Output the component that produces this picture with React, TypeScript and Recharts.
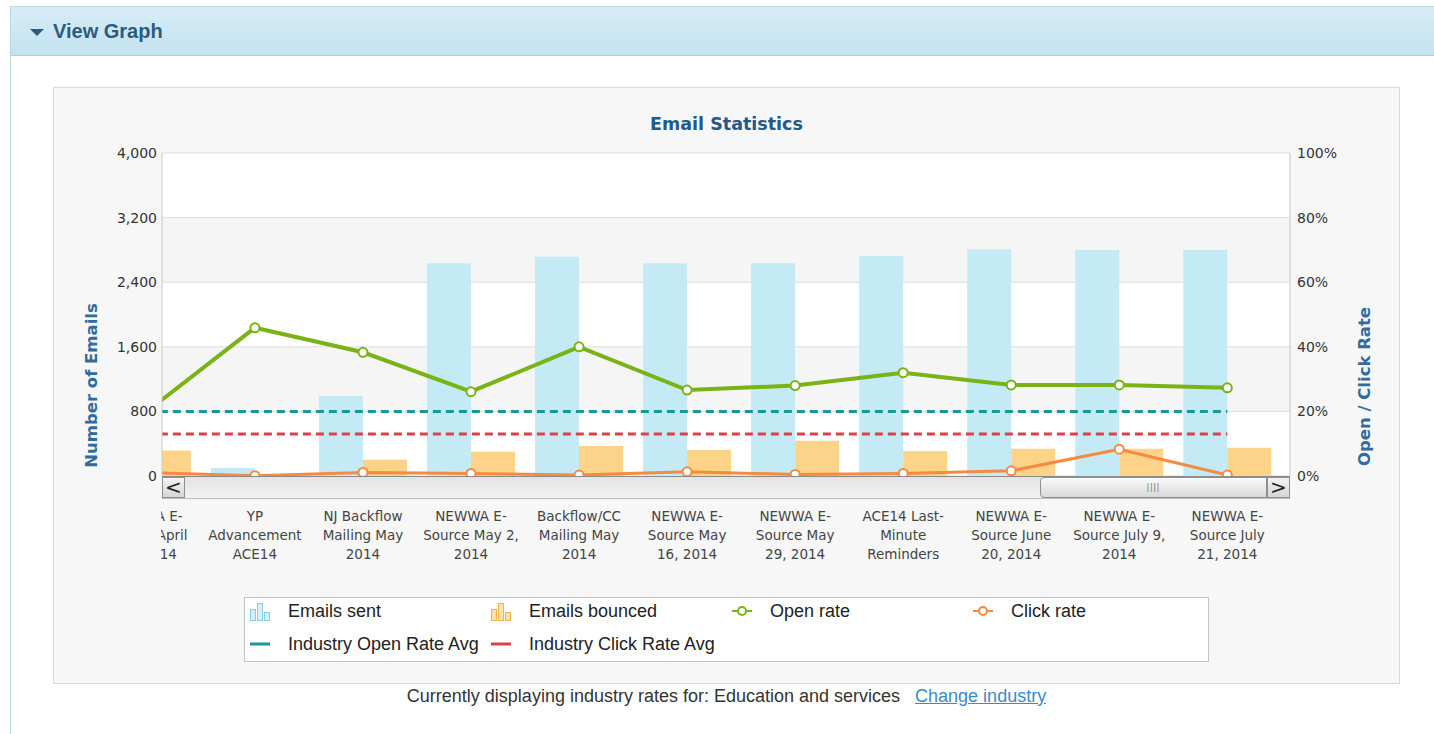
import { ComposedChart, Bar, Line, XAxis, YAxis, CartesianGrid, ReferenceLine } from 'recharts';

// campaign names, line breaks as shown under the axis
const categories = [
  'NEWWA E-\nSource April\n18, 2014',
  'YP\nAdvancement\nACE14',
  'NJ Backflow\nMailing May\n2014',
  'NEWWA E-\nSource May 2,\n2014',
  'Backflow/CC\nMailing May\n2014',
  'NEWWA E-\nSource May\n16, 2014',
  'NEWWA E-\nSource May\n29, 2014',
  'ACE14 Last-\nMinute\nReminders',
  'NEWWA E-\nSource June\n20, 2014',
  'NEWWA E-\nSource July 9,\n2014',
  'NEWWA E-\nSource July\n21, 2014',
];
const emailsSent = [2600, 100, 990, 2635, 2716, 2635, 2635, 2724, 2807, 2800, 2800];
const emailsBounced = [315, 5, 200, 300, 372, 322, 437, 310, 338, 338, 350];
const openRate = [20, 45.9, 38.3, 26.1, 40.0, 26.6, 28.0, 32.0, 28.2, 28.2, 27.3];
const clickRate = [1.1, 0.1, 1.1, 0.8, 0.3, 1.3, 0.5, 0.8, 1.6, 8.3, 0.3];
const industryOpenRate = 20;
const industryClickRate = 13;

const countTicks = [0, 800, 1600, 2400, 3200, 4000];
const rateTicks = [0, 20, 40, 60, 80, 100];
// visible window of the scrolled category axis
const xWindow = [0.14, 10.58];

const data = categories.map((name, idx) => ({
  idx,
  name,
  sent: emailsSent[idx],
  bounced: emailsBounced[idx],
  open: openRate[idx],
  click: clickRate[idx],
}));

const C = {
  sent: '#c4eaf6',
  bounced: '#fdd38a',
  open: '#79b316',
  click: '#f58b40',
  indOpen: '#17999a',
  indClick: '#d9414b',
  blue: '#2f6b9f',
};

const PLOT_LEFT = 108;

function CategoryTick({ x, y, payload, index }: any) {
  const lines = (categories[Math.round(payload.value)] ?? '').split('\n');
  const id = `tick-clip-${index}`;
  return (
    <g>
      <defs>
        <clipPath id={id}>
          <rect x={PLOT_LEFT - 1} y={0} width={3000} height={3000} />
        </clipPath>
      </defs>
      <text x={x} y={y} textAnchor="middle" fill="#444" fontSize={13.5} fontFamily="DejaVu Sans" clipPath={`url(#${id})`}>
        {lines.map((l, i) => (
          <tspan key={i} x={x} dy={i === 0 ? 45 : 19}>{l}</tspan>
        ))}
      </text>
    </g>
  );
}

function AxisTitle({ viewBox, text, shiftX, shiftY }: any) {
  const cx = viewBox.x + viewBox.width / 2 + shiftX;
  const cy = viewBox.y + viewBox.height / 2 + shiftY;
  return (
    <text x={cx} y={cy} transform={`rotate(-90 ${cx} ${cy})`} textAnchor="middle" dominantBaseline="central"
      fontFamily="DejaVu Sans" fontWeight="bold" fontSize={16.5} fill={C.blue}>
      {text}
    </text>
  );
}

function BarIcon({ fill, stroke }: { fill: string; stroke: string }) {
  return (
    <svg width={22} height={22}>
      <rect x={1.5} y={9.5} width={5} height={11} fill={fill} stroke={stroke} />
      <rect x={8.5} y={3.5} width={5} height={17} fill={fill} stroke={stroke} />
      <rect x={15.5} y={12.5} width={5} height={8} fill={fill} stroke={stroke} />
    </svg>
  );
}

function LineIcon({ color, dot }: { color: string; dot: boolean }) {
  return (
    <svg width={22} height={22}>
      <line x1={1} y1={11} x2={21} y2={11} stroke={color} strokeWidth={dot ? 2 : 3} />
      {dot && <circle cx={11} cy={11} r={4} fill="#fff" stroke={color} strokeWidth={2} />}
    </svg>
  );
}

const legendItems = [
  { label: 'Emails sent', icon: <BarIcon fill="#d6f0f9" stroke="#8ccbe0" /> },
  { label: 'Emails bounced', icon: <BarIcon fill="#fde2a8" stroke="#efb24c" /> },
  { label: 'Open rate', icon: <LineIcon color={C.open} dot /> },
  { label: 'Click rate', icon: <LineIcon color={C.click} dot /> },
  { label: 'Industry Open Rate Avg', icon: <LineIcon color={C.indOpen} dot={false} /> },
  { label: 'Industry Click Rate Avg', icon: <LineIcon color={C.indClick} dot={false} /> },
];

function Scrollbar() {
  const btn: React.CSSProperties = {
    position: 'absolute', top: 0, width: 23, height: 21, background: 'linear-gradient(#f4f4f4, #d6d6d6)',
    border: '1px solid #8f8f8f', boxSizing: 'border-box', fontSize: 20, lineHeight: '18px', textAlign: 'center',
    color: '#222', fontFamily: 'DejaVu Sans',
  };
  return (
    <div style={{ position: 'absolute', left: PLOT_LEFT, top: 388, width: 1128, height: 23, background: 'linear-gradient(#e4e4e4, #f1f1f1)', borderTop: '1px solid #8a8a8a', borderBottom: '1px solid #bdbdbd', boxSizing: 'border-box' }}>
      <div style={{ ...btn, left: 0 }}>&lt;</div>
      <div style={{ position: 'absolute', left: 878, top: 0, width: 227, height: 21, background: 'linear-gradient(#fafafa, #d9d9d9)', border: '1px solid #8f8f8f', borderRadius: '4px 0 0 4px', boxSizing: 'border-box', textAlign: 'center', fontSize: 9, lineHeight: '19px', color: '#777', letterSpacing: 1 }}>
        ||||
      </div>
      <div style={{ ...btn, right: 0 }}>&gt;</div>
    </div>
  );
}

export default function App() {
  return (
    <div style={{ position: 'absolute', left: 0, top: 0, width: 1434, height: 734, overflow: 'hidden', background: '#fff', fontFamily: '"Liberation Sans", Arial, sans-serif' }}>
      <div style={{ position: 'absolute', left: 10, top: 6, width: 1500, height: 800, border: '1px solid #bcd9e6', boxSizing: 'border-box' }}>
        <div style={{ position: 'relative', height: 48, background: 'linear-gradient(#d6edf7, #c3e2ef)', borderBottom: '1px solid #a8cfe1' }}>
          <div style={{ position: 'absolute', left: 19, top: 22, width: 0, height: 0, borderLeft: '7px solid transparent', borderRight: '7px solid transparent', borderTop: '7px solid #2b5c7e' }} />
          <div style={{ position: 'absolute', left: 42, top: 0, lineHeight: '48px', fontSize: 20, fontWeight: 'bold', color: '#2b5c7e' }}>View Graph</div>
        </div>
      </div>

      <div style={{ position: 'absolute', left: 53, top: 87, width: 1347, height: 597, border: '1px solid #d9d9d9', background: '#f7f7f7', boxSizing: 'border-box' }}>
        <div style={{ position: 'absolute', left: 0, top: 25, width: '100%', textAlign: 'center', fontFamily: 'DejaVu Sans', fontWeight: 'bold', fontSize: 17.5, lineHeight: '22px', color: '#22598a' }}>
          Email Statistics
        </div>
        <div style={{ position: 'absolute', left: 0, top: 0 }}>
          <ComposedChart width={1345} height={478} data={data} margin={{ top: 65, right: 0, bottom: 0, left: 0 }} barGap={0}>
            <CartesianGrid yAxisId="left" vertical={false} stroke="#dedede" horizontalFill={['#ffffff', '#f5f5f5']} fillOpacity={1} />
            <XAxis xAxisId={0} type="number" dataKey="idx" domain={xWindow} allowDataOverflow ticks={categories.map((_, i) => i)} interval={0}
              tick={<CategoryTick />} tickLine={false} axisLine={false} tickSize={0} tickMargin={0} height={90} />
            <YAxis yAxisId="left" orientation="left" width={108} domain={[0, 4000]} ticks={countTicks} tickLine={false} tickSize={3} tickMargin={2}
              axisLine={{ stroke: '#c8c8c8' }} tick={{ fill: '#333', fontSize: 14, fontFamily: 'DejaVu Sans' }}
              tickFormatter={(v: number) => v.toLocaleString('en-US')}
              label={{ content: (p: any) => <AxisTitle {...p} text="Number of Emails" shiftX={-17} shiftY={71} /> }} />
            <YAxis yAxisId="right" orientation="right" width={109} domain={[0, 100]} ticks={rateTicks} tickLine={false} tickSize={5} tickMargin={2}
              axisLine={{ stroke: '#c8c8c8' }} tick={{ fill: '#333', fontSize: 14, fontFamily: 'DejaVu Sans' }}
              tickFormatter={(v: number) => `${v}%`}
              label={{ content: (p: any) => <AxisTitle {...p} text="Open / Click Rate" shiftX={19.5} shiftY={72} /> }} />
            <Bar yAxisId="left" dataKey="sent" name="Emails sent" fill={C.sent} barSize={44} isAnimationActive={false} />
            <Bar yAxisId="left" dataKey="bounced" name="Emails bounced" fill={C.bounced} barSize={44} isAnimationActive={false} />
            <ReferenceLine yAxisId="right" ifOverflow="hidden" stroke={C.indOpen} strokeWidth={3} strokeDasharray="8 5"
              segment={[{ x: 0, y: industryOpenRate }, { x: categories.length - 1, y: industryOpenRate }]} />
            <ReferenceLine yAxisId="right" ifOverflow="hidden" stroke={C.indClick} strokeWidth={3} strokeDasharray="8 5"
              segment={[{ x: 0, y: industryClickRate }, { x: categories.length - 1, y: industryClickRate }]} />
            <Line yAxisId="right" dataKey="click" name="Click rate" stroke={C.click} strokeWidth={3}
              dot={{ r: 4.5, fill: '#fff', stroke: C.click, strokeWidth: 2 }} isAnimationActive={false} />
            <Line yAxisId="right" dataKey="open" name="Open rate" stroke={C.open} strokeWidth={4}
              dot={{ r: 4.5, fill: '#fff', stroke: C.open, strokeWidth: 2 }} isAnimationActive={false} />
          </ComposedChart>
        </div>
        <Scrollbar />

        <div style={{ position: 'absolute', left: 190, top: 509, width: 965, height: 65, border: '1px solid #c4c4c4', background: '#fff', boxSizing: 'border-box' }}>
          {legendItems.map((item, i) => (
            <div key={item.label} style={{ position: 'absolute', left: 4 + 241 * (i % 4), top: Math.floor(i / 4) * 33, height: 26, display: 'flex', alignItems: 'center' }}>
              <div style={{ width: 22, height: 22 }}>{item.icon}</div>
              <span style={{ marginLeft: 17, fontSize: 18, color: '#222', whiteSpace: 'nowrap' }}>{item.label}</span>
            </div>
          ))}
        </div>
      </div>

      <div style={{ position: 'absolute', left: 53, top: 684, width: 1347, textAlign: 'center', fontSize: 18, lineHeight: '24px', color: '#333' }}>
        Currently displaying industry rates for: Education and services
        <span style={{ marginLeft: 15, color: '#3a8ad0', textDecoration: 'underline' }}>Change industry</span>
      </div>
    </div>
  );
}
